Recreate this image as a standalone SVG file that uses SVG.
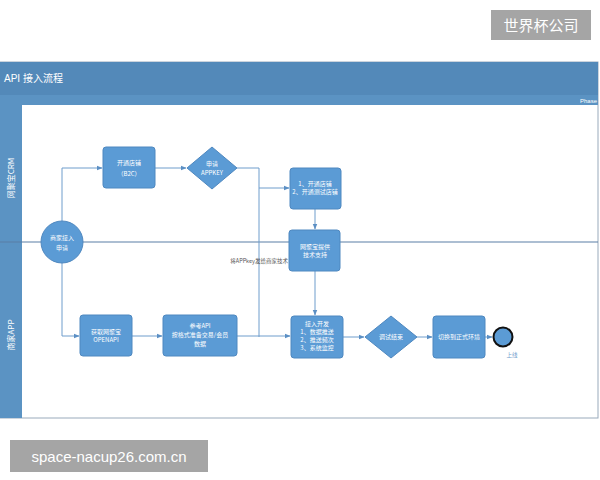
<svg xmlns="http://www.w3.org/2000/svg" width="600" height="480" viewBox="0 0 600 480">
<defs>
<marker id="ar" viewBox="0 0 10 10" refX="9" refY="5" markerWidth="6" markerHeight="6" orient="auto"><path d="M0,1 L10,5 L0,9z" fill="#5b8fc4"/></marker>
</defs>
<style>
.n{fill:#5b9bd5;stroke:#4f88c0;stroke-width:1}
.t{font-family:"Noto Sans CJK SC","Liberation Sans",sans-serif;font-size:6px;fill:#fff;text-anchor:middle}
.c{fill:none;stroke:#6f9dcc;stroke-width:1;marker-end:url(#ar)}
.l{fill:none;stroke:#6f9dcc;stroke-width:1}
</style>
<rect width="600" height="480" fill="#fff"/>
<rect x="0" y="62" width="598" height="356" fill="#fff" stroke="#9ab" stroke-width="1"/>
<rect x="0" y="62" width="598" height="33" fill="#5389b9"/>
<rect x="0" y="95" width="598" height="10" fill="#5b93c3"/>
<text x="4" y="82" font-family="Liberation Sans,Noto Sans CJK SC,sans-serif" font-size="10" fill="#fff">API 接入流程</text>
<text x="597" y="103" font-family="Liberation Sans,sans-serif" font-size="6" fill="#fff" text-anchor="end">Phase</text>
<rect x="0" y="105" width="22" height="313" fill="#5b93c3"/>
<line x1="0" y1="242" x2="598" y2="242" stroke="#5a7fa6" stroke-width="1.2"/>
<text transform="translate(14,178) rotate(-90)" font-family="Noto Sans CJK SC,sans-serif" font-size="8" fill="#fff" text-anchor="middle">网聚宝CRM</text>
<text transform="translate(14,335) rotate(-90)" font-family="Noto Sans CJK SC,sans-serif" font-size="8" fill="#fff" text-anchor="middle">商家APP</text>
<g id="connectors">
<path class="c" d="M62,221 V168 H102"/>
<path class="c" d="M62,263 V336 H79"/>
<path class="c" d="M155,168 H186"/>
<path class="l" d="M237,168 H259 V337"/>
<path class="c" d="M259,188 H289"/>
<path class="c" d="M132,336 H162"/>
<path class="c" d="M237,336 H290"/>
<path class="c" d="M315,209 V229"/>
<path class="c" d="M315,271 V315"/>
<path class="c" d="M343,337 H364"/>
<path class="c" d="M417,337 H432"/>
<path class="c" d="M485,337 H492"/>
</g>
<text x="288" y="263" font-family="Noto Sans CJK SC,sans-serif" font-size="5.5" fill="#555" text-anchor="end">将APPkey发给商家技术</text>
<g id="start"><circle class="n" cx="62" cy="242" r="21"/><text class="t" x="62" y="240" font-size="7">商家接入</text><text class="t" x="62" y="250" font-size="7">申请</text></g>
<g id="b2c"><rect class="n" x="103" y="147" width="52" height="41" rx="3"/><text class="t" x="129" y="165">开通店铺</text><text class="t" x="129" y="176">（B2C）</text></g>
<g id="appkey"><path class="n" d="M212,147 L237,168 L212,189 L187,168z"/><text class="t" x="212" y="166">申请</text><text class="t" x="212" y="175">APPKEY</text></g>
<g id="shops"><rect class="n" x="290" y="168" width="51" height="41" rx="3"/><text class="t" x="315" y="186" font-size="5">1、开通店铺</text><text class="t" x="315" y="194" font-size="5">2、开通测试店铺</text></g>
<g id="support"><rect class="n" x="289" y="230" width="51" height="41" rx="3"/><text class="t" x="315" y="249" font-size="5.5">网聚宝提供</text><text class="t" x="315" y="257" font-size="5.5">技术支持</text></g>
<g id="openapi"><rect class="n" x="80" y="315" width="52" height="41" rx="3"/><text class="t" x="106" y="334" font-size="5.5">获取网聚宝</text><text class="t" x="106" y="342" font-size="5.5">OPENAPI</text></g>
<g id="ref"><rect class="n" x="163" y="315" width="74" height="41" rx="3"/><text class="t" x="200" y="328">参考API</text><text class="t" x="200" y="337">按格式准备交易/会员</text><text class="t" x="200" y="346">数据</text></g>
<g id="dev"><rect class="n" x="291" y="316" width="52" height="42" rx="3"/><text class="t" x="317" y="326" font-size="5.5">接入开发</text><text class="t" x="317" y="334" font-size="5.5">1、数据推送</text><text class="t" x="317" y="342" font-size="5.5">2、推送频次</text><text class="t" x="317" y="350" font-size="5.5">3、系统监控</text></g>
<g id="debug"><path class="n" d="M391,316 L417,337 L391,358 L365,337z"/><text class="t" x="391" y="339" font-size="5.5">调试结束</text></g>
<g id="switch"><rect class="n" x="433" y="316" width="52" height="42" rx="3"/><text class="t" x="459" y="339" font-size="5.5">切换到正式环境</text></g>
<g id="end"><circle cx="503" cy="337" r="9.5" fill="#5b9bd5" stroke="#111" stroke-width="2"/><text x="512" y="357" font-family="Noto Sans CJK SC,sans-serif" font-size="5.5" fill="#6f9dcc" text-anchor="middle">上线</text></g>
<rect x="491" y="10" width="100" height="30" fill="#a5a5a5"/>
<text x="541" y="31" font-family="Noto Sans CJK SC,sans-serif" font-size="15" fill="#fff" text-anchor="middle">世界杯公司</text>
<rect x="10" y="440" width="198" height="32" fill="#a5a5a5"/>
<text x="109" y="462" font-family="Liberation Sans,sans-serif" font-size="15" fill="#fff" text-anchor="middle">space-nacup26.com.cn</text>
</svg>
